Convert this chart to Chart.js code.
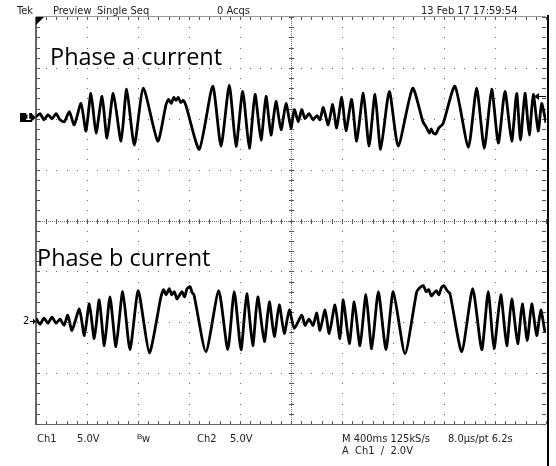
<!DOCTYPE html>
<html>
<head>
<meta charset="utf-8">
<title>Phase a / Phase b current</title>
<script src="https://cdn.jsdelivr.net/npm/chart.js@4.4.0/dist/chart.umd.min.js"></script>
<style>
    html, body { margin: 0; padding: 0; background: #fff; }
    #wrap { width: 556px; height: 466px; }
</style>
</head>
<body>
<div id="wrap"><canvas id="scope" width="556" height="466"></canvas></div>
<script>
/* ================================================
   Scope capture: phase a / phase b current
   400 ms/div, 10 div wide, 8 div high
   ================================================ */

// Channel 1 (phase a) - vertices, ms from left edge
const ch1Time = [
    0, 31, 63, 94, 125, 157, 188, 222, 261, 300, 353, 392, 431, 471, 518, 557, 606, 667, 711, 771, 842, 955,
    1020, 1040, 1060, 1080, 1098, 1115, 1135, 1155, 1176,
    1281, 1386, 1451, 1516, 1569, 1621, 1673, 1718, 1765, 1804, 1843, 1882, 1922, 1961, 2000, 2026, 2057, 2084,
    2110, 2141, 2173, 2204, 2227, 2253, 2292, 2327, 2358, 2398, 2431, 2476, 2515, 2567, 2612, 2659, 2703, 2771, 2841, 2954,
    3035, 3060, 3085, 3100, 3116, 3135, 3160, 3192,
    3286, 3391, 3456, 3516, 3574, 3626, 3678, 3731, 3770, 3800, 3835, 3869, 3900, 3939, 3966, 4000];
const ch1Volts = [
    0, 0.3, -0.3, 0.2, -0.2, 0.3, -0.3, -0.5, 0.5, -0.8, 1.3, -1.4, 2.3, -1.6, 2.0, -2.1, 2.3, -2.4, 2.7, -2.8, 2.8, -2.4,
    1.2, 1.7, 1.3, 1.9, 1.6, 1.9, 1.4, 1.6, 1.1,
    -3.2, 3.0, -2.9, 3.1, -2.9, 2.5, -3.1, 2.2, -2.3, 2.0, -1.8, 1.5, -1.3, 1.3, -1.1, 0.7, -0.5, 0.7,
    -0.2, 0.3, -0.3, 0.1, -0.3, 0.9, -0.8, 1.2, -1.1, 1.9, -1.4, 1.7, -2.4, 2.3, -2.9, 2.2, -3.2, 2.5, -2.9, 2.8,
    -0.5, -1.0, -1.6, -1.2, -1.6, -1.7, -1.1, -0.7,
    3.0, -3.0, 2.8, -3.1, 2.7, -2.6, 2.5, -2.4, 2.3, -2.3, 2.3, -1.8, 2.2, -1.4, 1.3, -0.6];

// Channel 2 (phase b)
const ch2Time = [
    0, 31, 63, 94, 125, 157, 188, 220, 249, 282, 340, 379, 418, 457, 496, 536, 580, 627, 680, 737, 802, 889,
    980, 1000, 1020, 1045, 1065, 1085, 1105, 1122, 1145, 1165, 1185, 1208, 1225, 1239,
    1333, 1433, 1504, 1555, 1608, 1653, 1700, 1739, 1791, 1830, 1869, 1908, 1947, 1987, 2026, 2084,
    2110, 2141, 2173, 2202, 2227, 2267, 2300, 2345, 2384, 2410, 2457, 2496, 2541, 2588, 2633, 2685, 2745, 2802, 2894,
    2986, 3010, 3038, 3060, 3080, 3100, 3116, 3140, 3160, 3180, 3200, 3225, 3247,
    3339, 3425, 3496, 3547, 3592, 3645, 3692, 3731, 3778, 3814, 3853, 3888, 3927, 3959, 3992];
const ch2Volts = [
    0.3, -0.3, 0.3, -0.2, 0.4, -0.2, 0.2, -0.4, 0.6, -0.9, 1.2, -1.4, 1.7, -1.7, 2.1, -2.4, 2.4, -2.5, 2.9, -2.8, 3.0, -3.1,
    2.4, 3.1, 2.6, 3.2, 2.6, 2.9, 2.2, 2.5, 2.9, 2.4, 3.2, 3.4, 2.8, 2.6,
    -3.0, 3.0, -2.8, 2.9, -2.8, 2.7, -2.4, 2.4, -2.0, 1.9, -1.5, 1.6, -1.2, 1.1, -0.7, 0.6,
    -0.4, 0.2, -0.4, 0.8, -0.9, 1.1, -1.2, 1.6, -1.7, 2.1, -2.2, 1.9, -2.4, 2.6, -2.7, 2.9, -2.8, 2.9, -3.2,
    2.9, 3.3, 3.5, 2.9, 3.1, 2.5, 2.7, 3.0, 2.6, 3.3, 3.5, 3.0, 2.7,
    -3.0, 3.2, -2.8, 2.9, -2.7, 2.6, -2.4, 2.2, -2.2, 1.7, -1.9, 1.7, -1.4, 1.1, -1.1];

// Scope settings
const VOLTS_PER_DIV = 5.0;
const CH1_POSITION = 2.04;   // divisions above centre
const CH2_POSITION = -1.98;
const TRIGGER_LEVEL = 2.0;   // V on ch1
const TIME_SPAN = 4000;      // ms

const headerTexts = [
    { text: 'Tek', x: 17 },
    { text: 'Preview', x: 53 },
    { text: 'Single Seq', x: 97 },
    { text: '0 Acqs', x: 217 },
    { text: '13 Feb 17 17:59:54', x: 421 }
];
const footerTexts = [
    { text: 'Ch1', x: 37, y: 442 },
    { text: '5.0V', x: 77, y: 442 },
    { text: 'Ch2', x: 197, y: 442 },
    { text: '5.0V', x: 230, y: 442 },
    { text: 'M 400ms 125kS/s', x: 342, y: 442 },
    { text: '8.0\u00b5s/pt 6.2s', x: 448, y: 442 },
    { text: 'A  Ch1  \u2215  2.0V', x: 342, y: 454 }
];

const SMALL_FONT = '11px "Liberation Sans Narrow", "DejaVu Sans Condensed", "Liberation Sans", sans-serif';
const LABEL_FONT = '23.5px "Open Sans", "Noto Sans", sans-serif';

function toPoints(times, volts) {
    return times.map((t, i) => ({ x: t, y: volts[i] }));
}

function axisRange(position) {
    return {
        min: (-4 - position) * VOLTS_PER_DIV,
        max: (4 - position) * VOLTS_PER_DIV
    };
}

// White background
const background = {
    id: 'background',
    beforeDraw(chart) {
        const ctx = chart.ctx;
        ctx.save();
        ctx.fillStyle = '#fff';
        ctx.fillRect(0, 0, chart.width, chart.height);
        ctx.restore();
    }
};

// Scope graticule: dotted divisions, ticked centre lines and border
const graticule = {
    id: 'graticule',
    beforeDatasetsDraw(chart) {
        const { ctx, chartArea: a } = chart;
        const dw = (a.right - a.left) / 10;
        const dh = (a.bottom - a.top) / 8;
        const cx = Math.round(a.left + dw * 5);
        const cy = Math.round(a.top + dh * 4);
        ctx.save();

        // dotted division lines
        ctx.fillStyle = '#666';
        for (let i = 1; i < 10; i++) {
            if (i === 5) continue;
            const x = Math.round(a.left + dw * i);
            for (let k = 0; k <= 40; k++) ctx.fillRect(x, Math.round(a.top + k * dh / 5), 1, 1);
        }
        for (let j = 1; j < 8; j++) {
            if (j === 4) continue;
            const y = Math.round(a.top + dh * j);
            for (let k = 0; k <= 50; k++) ctx.fillRect(Math.round(a.left + k * dw / 5), y, 1, 1);
        }

        // centre lines
        ctx.fillStyle = '#777';
        for (let y = a.top; y < a.bottom; y += 2) ctx.fillRect(cx, y, 1, 1);
        for (let x = a.left; x < a.right; x += 2) ctx.fillRect(x, cy, 1, 1);
        ctx.fillStyle = '#555';
        for (let k = 0; k <= 40; k++) ctx.fillRect(cx - 2, Math.round(a.top + k * dh / 5), 5, 1);
        for (let k = 0; k <= 50; k++) ctx.fillRect(Math.round(a.left + k * dw / 5), cy - 2, 1, 5);

        // border
        ctx.fillStyle = '#666';
        ctx.fillRect(a.left - 1, a.top, 2, a.bottom - a.top + 1);
        ctx.fillRect(a.left, a.bottom, a.right - a.left, 1);
        ctx.fillStyle = '#999';
        ctx.fillRect(a.left, a.top - 1, a.right - a.left, 1);
        ctx.fillStyle = '#555';
        for (let k = 0; k <= 40; k++) {
            const y = Math.round(a.top + k * dh / 5);
            ctx.fillRect(a.left, y, 4, 1);
            ctx.fillRect(a.right - 4, y, 4, 1);
        }
        for (let k = 0; k <= 50; k++) {
            const x = Math.round(a.left + k * dw / 5);
            ctx.fillRect(x, a.top, 1, 3);
            ctx.fillRect(x, a.bottom - 3, 1, 3);
        }
        ctx.restore();
    },
    afterDatasetsDraw(chart) {
        const { ctx, chartArea: a } = chart;
        const y1 = chart.scales.y1;
        const y2 = chart.scales.y2;
        ctx.save();

        // right edge bar
        ctx.fillStyle = '#000';
        ctx.fillRect(a.right + 1, a.top - 2, 2, chart.height - a.top + 2);

        // trigger position marker
        ctx.beginPath();
        ctx.moveTo(a.left, a.top);
        ctx.lineTo(a.left + 8, a.top);
        ctx.lineTo(a.left, a.top + 8);
        ctx.closePath();
        ctx.fill();

        // ch1 ground marker
        const g1 = Math.round(y1.getPixelForValue(0));
        ctx.fillRect(a.left - 16, g1 - 4, 12, 9);
        ctx.beginPath();
        ctx.moveTo(a.left - 5, g1 - 4);
        ctx.lineTo(a.left, g1 + 0.5);
        ctx.lineTo(a.left - 5, g1 + 5);
        ctx.closePath();
        ctx.fill();
        ctx.fillStyle = '#fff';
        ctx.font = 'bold 9px "DejaVu Sans", sans-serif';
        ctx.textBaseline = 'middle';
        ctx.fillText('1', a.left - 11, g1 + 1);

        // ch2 ground marker
        const g2 = Math.round(y2.getPixelForValue(0));
        ctx.fillStyle = '#000';
        ctx.font = SMALL_FONT;
        ctx.fillText('2', a.left - 13, g2);
        ctx.fillRect(a.left - 6, g2, 6, 1);
        ctx.beginPath();
        ctx.moveTo(a.left, g2 + 0.5);
        ctx.lineTo(a.left - 3, g2 - 2.5);
        ctx.lineTo(a.left - 3, g2 + 3.5);
        ctx.closePath();
        ctx.fill();

        // trigger level arrow
        const tl = Math.round(y1.getPixelForValue(TRIGGER_LEVEL));
        ctx.fillRect(a.right - 10, tl, 10, 1);
        ctx.beginPath();
        ctx.moveTo(a.right - 12, tl + 0.5);
        ctx.lineTo(a.right - 7, tl - 3);
        ctx.lineTo(a.right - 7, tl + 4);
        ctx.closePath();
        ctx.fill();
        ctx.restore();
    }
};

// Header, footer and channel captions
const captions = {
    id: 'captions',
    afterDraw(chart) {
        const ctx = chart.ctx;
        ctx.save();
        ctx.textBaseline = 'alphabetic';
        ctx.fillStyle = '#222';
        ctx.font = SMALL_FONT;
        headerTexts.forEach(h => ctx.fillText(h.text, h.x, 14));
        footerTexts.forEach(f => ctx.fillText(f.text, f.x, f.y));
        // bandwidth limit symbol
        ctx.font = '8px "Liberation Sans Narrow", "Liberation Sans", sans-serif';
        ctx.fillText('B', 137, 439);
        ctx.font = SMALL_FONT;
        ctx.fillText('w', 142, 442);

        ctx.fillStyle = '#000';
        ctx.font = LABEL_FONT;
        ctx.fillText('Phase a current', 50, 65);
        ctx.fillText('Phase b current', 37, 266);
        ctx.restore();
    }
};

const r1 = axisRange(CH1_POSITION);
const r2 = axisRange(CH2_POSITION);

const traceStyle = {
    borderColor: '#000',
    borderWidth: 2.8,
    pointRadius: 0,
    fill: false,
    tension: 0.2
};

new Chart(document.getElementById('scope'), {
    type: 'line',
    data: {
        datasets: [
            { label: 'Phase a current', data: toPoints(ch1Time, ch1Volts), yAxisID: 'y1', ...traceStyle },
            { label: 'Phase b current', data: toPoints(ch2Time, ch2Volts), yAxisID: 'y2', ...traceStyle }
        ]
    },
    options: {
        responsive: false,
        animation: false,
        layout: { padding: { left: 36, top: 17, right: 10, bottom: 42 } },
        plugins: {
            legend: { display: false },
            tooltip: { enabled: false }
        },
        scales: {
            x: { type: 'linear', min: 0, max: TIME_SPAN, display: false },
            y1: { type: 'linear', min: r1.min, max: r1.max, display: false },
            y2: { type: 'linear', min: r2.min, max: r2.max, display: false }
        }
    },
    plugins: [background, graticule, captions]
});
</script>
</body>
</html>
